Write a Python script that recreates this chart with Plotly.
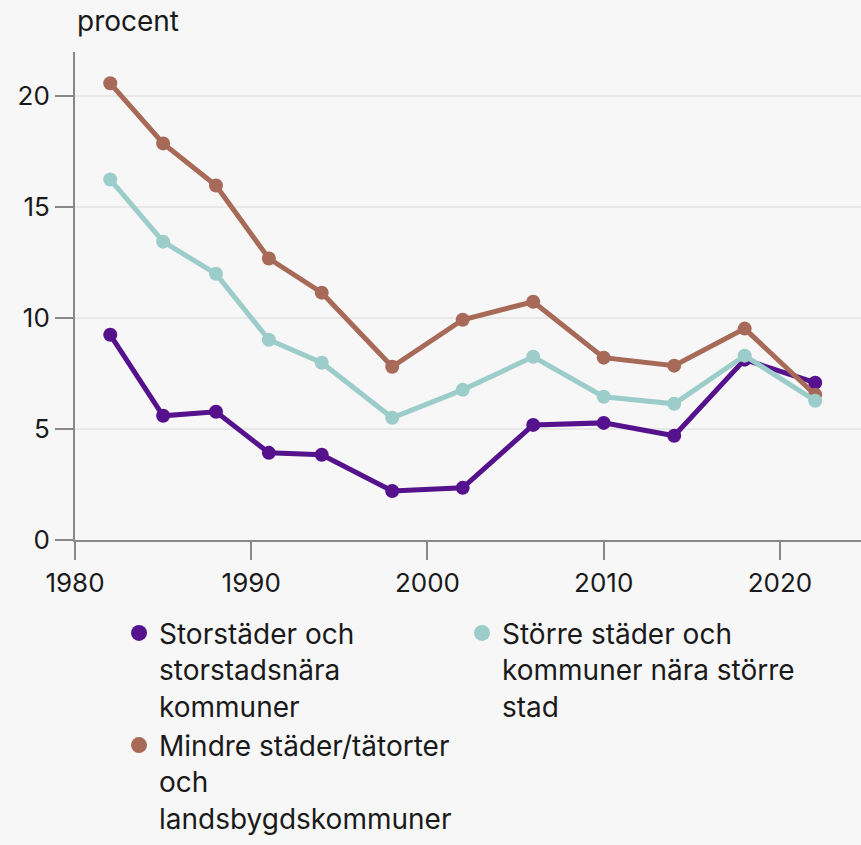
import plotly.graph_objects as go

years = [1982, 1985, 1988, 1991, 1994, 1998, 2002, 2006, 2010, 2014, 2018, 2022]
storstad = [9.25, 5.6, 5.78, 3.93, 3.84, 2.21, 2.35, 5.19, 5.28, 4.7, 8.13, 7.09]
storre = [16.25, 13.45, 12.0, 9.03, 7.99, 5.51, 6.77, 8.26, 6.46, 6.14, 8.31, 6.28]
mindre = [20.59, 17.88, 15.98, 12.69, 11.15, 7.81, 9.93, 10.74, 8.22, 7.86, 9.53, 6.55]

names = ["Storstäder och<br>storstadsnära<br>kommuner",
         "Större städer och<br>kommuner nära större<br>stad",
         "Mindre städer/tätorter<br>och<br>landsbygdskommuner"]
colors = ["#55128c", "#9ccdca", "#a86a58"]

FONT = "Inter"
TEXT = "#1a1a1a"
fig = go.Figure()
# draw order: purple, brown, teal ; legend order via legendrank
for vals, idx in [(storstad, 0), (mindre, 2), (storre, 1)]:
    fig.add_trace(go.Scatter(
        x=years, y=vals, mode="lines+markers", name=names[idx],
        line=dict(color=colors[idx], width=5),
        marker=dict(color=colors[idx], size=14),
        showlegend=False, hoverinfo="x+y"))
for idx, rank in [(0, 1), (1, 2), (2, 3)]:
    fig.add_trace(go.Scatter(
        x=[None], y=[None], mode="markers", name=names[idx],
        marker=dict(color=colors[idx], size=24),
        legendrank=rank, showlegend=True))

fig.update_layout(
    width=861, height=845,
    paper_bgcolor="#f7f7f7", plot_bgcolor="#f7f7f7",
    margin=dict(l=75, r=0, t=52, b=305, autoexpand=False),
    font=dict(family=FONT, size=26, color=TEXT),
    xaxis=dict(range=[1980, 2024.6], tickvals=[1980, 1990, 2000, 2010, 2020],
               showgrid=False, showline=True, linecolor="#888888", linewidth=2,
               ticks="outside", ticklen=18, tickwidth=2, tickcolor="#888888",
               zeroline=False, ticklabelstandoff=1),
    yaxis=dict(range=[0, 22], tickvals=[0, 5, 10, 15, 20],
               showgrid=True, gridcolor="#e8e8e8", gridwidth=2,
               showline=True, linecolor="#888888", linewidth=2,
               ticks="outside", ticklen=18, tickwidth=2, tickcolor="#888888",
               zeroline=False, ticklabelstandoff=0),
    legend=dict(orientation="h", x=0.056, xanchor="left", y=-0.1398, yanchor="top",
                entrywidth=298, entrywidthmode="pixels", valign="top",
                font=dict(family=FONT, size=28, color=TEXT),
                bgcolor="rgba(0,0,0,0)", itemsizing="trace"),
    annotations=[dict(text="procent", xref="paper", yref="paper", x=0, y=1,
                      xanchor="left", yanchor="bottom", yshift=12, showarrow=False,
                      font=dict(family=FONT, size=28, color=TEXT))],
)
fig.write_html("out.html", config={"displayModeBar": False},
               post_script="document.body.style.margin='0';document.body.style.background='#f7f7f7';")
